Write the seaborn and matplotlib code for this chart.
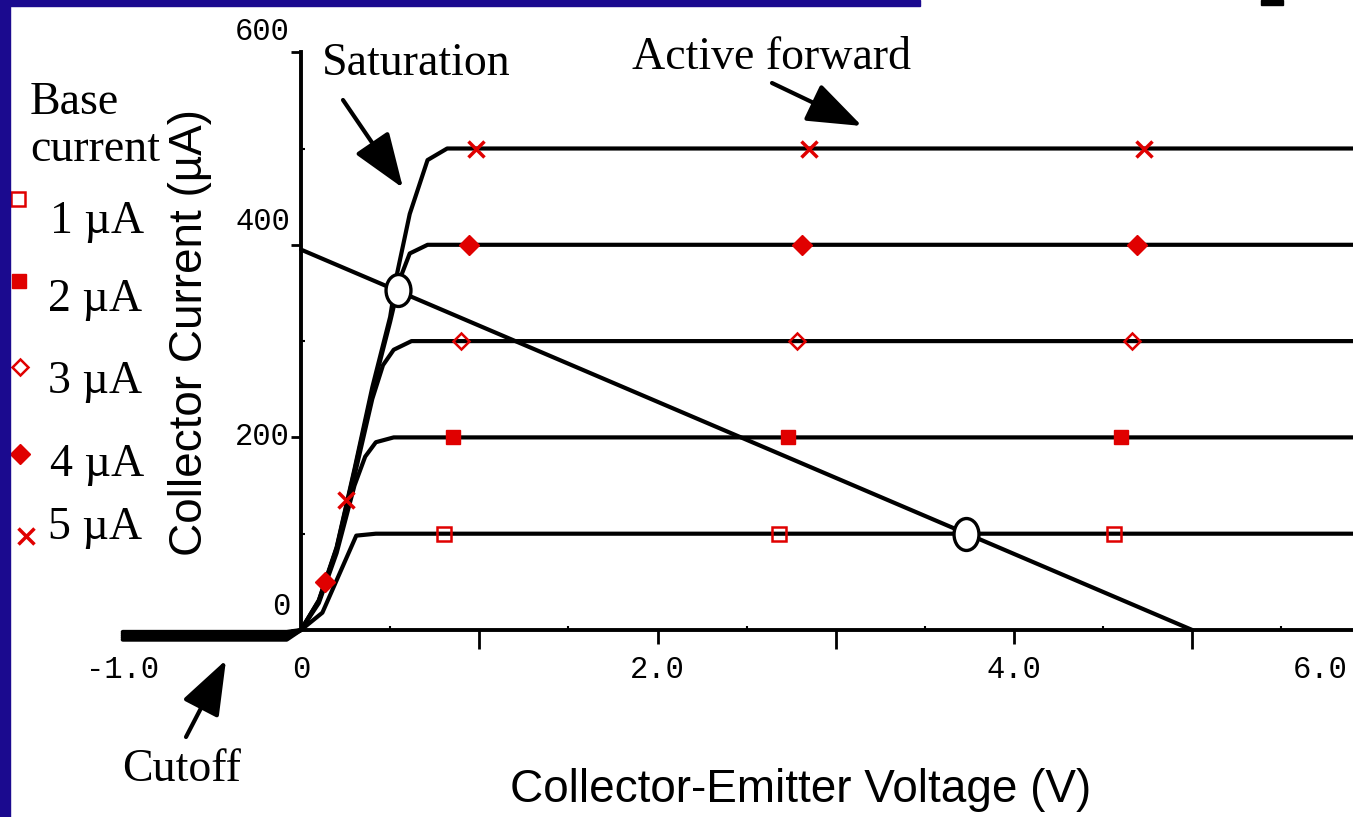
import pandas as pd
import seaborn as sns
import matplotlib.pyplot as plt
from matplotlib.patches import Rectangle
from matplotlib.path import Path
from matplotlib.transforms import Affine2D, ScaledTranslation

sns.set_theme(style="white")
plt.rcParams["font.family"] = ["Liberation Serif", "DejaVu Serif"]
plt.rcParams["text.color"] = "black"
plt.rcParams["xtick.color"] = "black"
plt.rcParams["ytick.color"] = "black"

# ---- data ----
base_labels = ["1 µA", "2 µA", "3 µA", "4 µA", "5 µA"]

# Ic-Vce curves, one list per base current
curve_v = [
    [-1.0, -0.08, 0.0, 0.12, 0.31, 0.42, 6.05],
    [-1.0, -0.08, 0.0, 0.10, 0.20, 0.30, 0.36, 0.42, 0.52, 6.05],
    [-1.0, -0.08, 0.0, 0.10, 0.20, 0.30, 0.40, 0.46, 0.52, 0.62, 6.05],
    [-1.0, -0.08, 0.0, 0.10, 0.20, 0.30, 0.40, 0.50, 0.56, 0.61, 0.71, 6.05],
    [-1.0, -0.08, 0.0, 0.10, 0.20, 0.30, 0.40, 0.50, 0.54, 0.61, 0.71, 0.82, 6.05],
]
curve_i = [
    [-2, -2, 0, 18, 98, 100, 100],
    [-4, -4, 0, 28, 80, 150, 180, 195, 200, 200],
    [-6, -6, 0, 30, 84, 160, 240, 275, 291, 300, 300],
    [-8, -8, 0, 30, 85, 165, 248, 320, 367, 391, 400, 400],
    [-10, -10, 0, 31, 86, 167, 252, 325, 371, 432, 488, 500, 500],
]

# red data points on each curve
point_v = [
    [0.80, 2.68, 4.56],
    [0.85, 2.73, 4.60],
    [0.90, 2.78, 4.66],
    [0.135, 0.94, 2.81, 4.69],
    [0.25, 0.98, 2.85, 4.73],
]
point_i = [
    [100, 100, 100],
    [200, 200, 200],
    [300, 300, 300],
    [50, 400, 400, 400],
    [135, 500, 500, 500],
]

# load line and operating points
load_v = [0.0, 5.0]
load_i = [395, 0]
q_v = [0.544, 3.73]
q_i = [353, 100]

x_ticks = [-1, 0, 1, 2, 3, 4, 5, 6]
x_ticklabels = ["-1.0", "0", "", "2.0", "", "4.0", "", "6.0"]
x_minor = [0.5, 1.5, 2.5, 3.5, 4.5, 5.5]
y_ticks = [0, 200, 400, 600]
y_ticklabels = ["0", "200", "400", "600"]
y_minor = [100, 300, 500]

# ---- figure ----
W, H = 1353, 817
fig = plt.figure(figsize=(W / 100, H / 100), dpi=100, facecolor="white")
# pixel mapping: V=0 at x=301, 178.25 px/V ; I=0 at y=630, 0.963 px/uA
xl = (-301 / 178.25, 6.05)
ax = fig.add_axes([0, 0, (301 + 6.05 * 178.25) / W, 1])
ax.set_xlim(*xl)
ax.set_ylim((630 - 817) / 0.963, 630 / 0.963)
ax.patch.set_alpha(0)

rows = []
for lab, vs, cs in zip(base_labels, curve_v, curve_i):
    for v, c in zip(vs, cs):
        rows.append({"base": lab, "V": v, "I": c})
df = pd.DataFrame(rows)

sns.lineplot(data=df, x="V", y="I", units="base", estimator=None, sort=False,
             color="black", lw=3, ax=ax, zorder=3)
sns.lineplot(x=load_v, y=load_i, color="black", lw=3, ax=ax, zorder=3)

red = "#e00000"
mstyles = [
    dict(marker="s", mfc="none", mec=red, ms=10, mew=1.8),
    dict(marker="s", mfc=red, mec=red, ms=10, mew=1),
    dict(marker="D", mfc="none", mec=red, ms=8.5, mew=1.8),
    dict(marker="D", mfc=red, mec=red, ms=10, mew=1),
    dict(marker="x", mec=red, ms=12, mew=2.5),
]
for vs, cs, st in zip(point_v, point_i, mstyles):
    ax.plot(vs, cs, ls="none", zorder=5, **st)

ell = Affine2D().scale(0.78, 1.0).transform_path(Path.unit_circle())
ax.plot(q_v, q_i, ls="none", marker=ell, ms=23, mfc="white", mec="black",
        mew=2.4, zorder=6)

# axes styling
for s in ["top", "right"]:
    ax.spines[s].set_visible(False)
ax.spines["left"].set_position(("data", 0))
ax.spines["left"].set_bounds(0, 600)
ax.spines["bottom"].set_position(("data", 0))
ax.spines["bottom"].set_bounds(0, 6.05)
for s in ["left", "bottom"]:
    ax.spines[s].set_linewidth(2.8)
    ax.spines[s].set_color("black")
    ax.spines[s].set_zorder(4)

mono = "Liberation Mono"
ax.set_xticks(x_ticks, x_ticklabels, fontsize=22, family=mono)
ax.set_xticks(x_minor, minor=True)
ax.set_yticks(y_ticks, y_ticklabels, fontsize=22, family=mono)
ax.set_yticks(y_minor, minor=True)
ax.tick_params(axis="x", which="major", direction="out", length=10, width=2,
               pad=8)
ax.tick_params(axis="x", which="minor", direction="in", length=3, width=1.5)
ax.tick_params(axis="y", which="major", direction="out", length=7, width=2,
               pad=1)
ax.tick_params(axis="y", which="minor", direction="in", length=3, width=1.5)
ax.tick_params(which="both", bottom=True, left=True)
xt = ax.xaxis.get_major_ticks()
xt[0].tick1line.set_visible(False)
xt[1].tick1line.set_visible(False)
for k in (2, 4, 6):
    xt[k].tick1line.set_markersize(14)
# the last x label sits at the right edge of the slide
xlabs = ax.get_xticklabels()
xlabs[-1].set_transform(xlabs[-1].get_transform()
                        + ScaledTranslation(-0.5, 0, fig.dpi_scale_trans))
# y labels sit above their ticks in the original
y_shift = [0.08, -0.15, 0.08, 0.05]
for lab, dy in zip(ax.get_yticklabels(), y_shift):
    lab.set_va("bottom")
    lab.set_transform(lab.get_transform()
                      + ScaledTranslation(0, dy, fig.dpi_scale_trans))
ax.set_xlabel("")
ax.set_ylabel("")


def fp(x, y):
    return x / W, 1 - y / H


# axis titles
fig.text(*fp(801, 790), "Collector-Emitter Voltage (V)", family="Liberation Sans",
         fontsize=33, ha="center", va="center")
fig.text(*fp(190, 332), "Collector Current (µA)", family="Liberation Sans",
         fontsize=33, ha="center", va="center", rotation=90)

# region annotations
fig.text(*fp(416, 64), "Saturation", fontsize=33, ha="center", va="center")
fig.text(*fp(771, 58), "Active forward", fontsize=33, ha="center", va="center")
fig.text(*fp(182, 770), "Cutoff", fontsize=33, ha="center", va="center")
aprops = dict(arrowstyle="-|>,head_length=3.4,head_width=1.25", lw=3,
              color="black", shrinkA=0, shrinkB=0, mutation_scale=10)
ax.annotate("", xy=(403, H - 188), xytext=(343, H - 100),
            xycoords="figure pixels", arrowprops=aprops)
ax.annotate("", xy=(862, H - 126), xytext=(772, H - 83),
            xycoords="figure pixels", arrowprops=aprops)
ax.annotate("", xy=(226, H - 660), xytext=(186, H - 737),
            xycoords="figure pixels", arrowprops=aprops)

# legend (drawn by hand, like the original slide)
fig.text(*fp(30, 103), "Base", fontsize=33, ha="left", va="center")
fig.text(*fp(30, 150), "current", fontsize=33, ha="left", va="center")
leg_mx = [18, 19, 20, 20, 26]
leg_my = [199, 281, 367, 454, 536]
leg_tx = [50, 48, 48, 50, 48]
leg_ty = [222, 300, 382, 465, 528]
for lab, st, mx, my, tx, ty in zip(base_labels, mstyles, leg_mx, leg_my, leg_tx, leg_ty):
    fig.lines.append(plt.Line2D([mx / W], [1 - my / H], ls="none",
                                transform=fig.transFigure, **st))
    fig.text(*fp(tx, ty), lab, fontsize=33, ha="left", va="center")

# slide border pieces
navy = "#1b0a8f"
fig.patches.append(Rectangle((0, 0), 10 / W, 1, transform=fig.transFigure,
                             color=navy, zorder=10))
fig.patches.append(Rectangle((0, 1 - 6 / H), 920 / W, 6 / H,
                             transform=fig.transFigure, color=navy, zorder=10))
fig.patches.append(Rectangle((1261 / W, 1 - 5 / H), 22 / W, 5 / H,
                             transform=fig.transFigure, color="black", zorder=10))

fig.savefig("out.png", dpi=100)
